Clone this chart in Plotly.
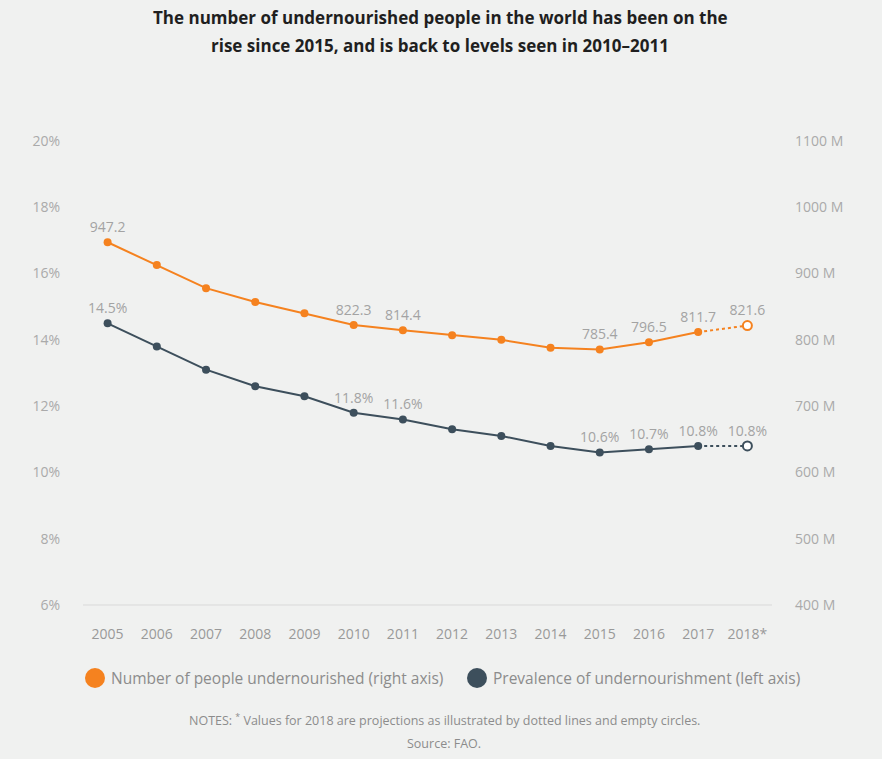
import plotly.graph_objects as go

years = ["2005", "2006", "2007", "2008", "2009", "2010", "2011", "2012", "2013",
         "2014", "2015", "2016", "2017", "2018*"]
people_m = [947.2, 913, 878, 857, 840, 822.3, 814.4, 807, 800, 788, 785.4, 796.5, 811.7, 821.6]
prevalence = [14.5, 13.8, 13.1, 12.6, 12.3, 11.8, 11.6, 11.3, 11.1, 10.8, 10.6, 10.7, 10.8, 10.8]
people_labels = ["947.2", "", "", "", "", "822.3", "814.4", "", "", "", "785.4", "796.5", "811.7", "821.6"]
prev_labels = ["14.5%", "", "", "", "", "11.8%", "11.6%", "", "", "", "10.6%", "10.7%", "10.8%", "10.8%"]
left_ticks = [6, 8, 10, 12, 14, 16, 18, 20]
left_tick_text = ["6%", "8%", "10%", "12%", "14%", "16%", "18%", "20%"]
right_ticks = [400, 500, 600, 700, 800, 900, 1000, 1100]
right_tick_text = ["400 M", "500 M", "600 M", "700 M", "800 M", "900 M", "1000 M", "1100 M"]
legend_names = ["Number of people undernourished (right axis)", "Prevalence of undernourishment (left axis)"]

ORANGE = "#f5821f"
SLATE = "#3d4f5c"
LABEL = "#a3a3a3"
BG = "#f0f1f0"
FONT = "Open Sans"

W, H = 882, 759
ML, MR, MT, MB = 83, 110, 141, 154
PW, PH = W - ML - MR, H - MT - MB


def px(xpix):
    return (xpix - ML) / PW


def py(ypix):
    return (H - MB - ypix) / PH


fig = go.Figure()
n_obs = len(years) - 1  # last is projection


def add_series(values, labels, color, axis):
    idx = [i for i in range(n_obs) if labels[i]]
    fig.add_trace(go.Scatter(
        x=years[:n_obs], y=values[:n_obs], mode="lines+markers",
        line=dict(color=color, width=2), marker=dict(color=color, size=8),
        showlegend=False, yaxis=axis))
    fig.add_trace(go.Scatter(
        x=[years[i] for i in idx], y=[values[i] for i in idx], mode="markers+text",
        text=[labels[i] for i in idx], textposition="top center",
        textfont=dict(color=LABEL, size=14, family=FONT),
        marker=dict(size=9, color="rgba(0,0,0,0)"),
        showlegend=False, cliponaxis=False, yaxis=axis))
    fig.add_trace(go.Scatter(
        x=years[n_obs - 1:], y=values[n_obs - 1:], mode="lines",
        line=dict(color=color, width=2, dash="dot"), showlegend=False, yaxis=axis))
    fig.add_trace(go.Scatter(
        x=years[n_obs:], y=values[n_obs:], mode="markers+text",
        text=labels[n_obs:], textposition="top center",
        textfont=dict(color=LABEL, size=14, family=FONT),
        marker=dict(color="white", size=9, line=dict(color=color, width=2)),
        showlegend=False, cliponaxis=False, yaxis=axis))


add_series(prevalence, prev_labels, SLATE, "y")
add_series(people_m, people_labels, ORANGE, "y2")

shapes = [dict(type="line", xref="paper", yref="paper", x0=0, x1=1, y0=0, y1=0,
               line=dict(color="#d9d9d9", width=1))]
annotations = []

# Manual legend
legend_items = [(95, ORANGE, legend_names[0]), (477, SLATE, legend_names[1])]
for cx, col, name in legend_items:
    shapes.append(dict(type="circle", xref="paper", yref="paper",
                       xsizemode="pixel", ysizemode="pixel",
                       xanchor=px(cx), yanchor=py(678),
                       x0=-10, x1=10, y0=-10, y1=10,
                       fillcolor=col, line=dict(width=0)))
    annotations.append(dict(text=name, xref="paper", yref="paper",
                            x=px(cx + 14), xanchor="left", y=py(678), yanchor="middle",
                            showarrow=False, font=dict(size=15.5, color="#8c8c8c", family=FONT)))

title_font = dict(size=17, color="#1f1f1f", family=FONT)
annotations += [
    dict(text="<b>The number of undernourished people in the world has been on the</b>",
         xref="paper", yref="paper", x=px(440), y=py(18), yanchor="middle",
         showarrow=False, font=title_font),
    dict(text="<b>rise since 2015, and is back to levels seen in 2010–2011</b>",
         xref="paper", yref="paper", x=px(440), y=py(45), yanchor="middle",
         showarrow=False, font=title_font),
    dict(text="NOTES: <sup>*</sup> Values for 2018 are projections as illustrated by dotted lines and empty circles.",
         xref="paper", yref="paper", x=px(444), y=py(720), yanchor="middle", showarrow=False,
         font=dict(size=12.5, color="#8c8c8c", family=FONT)),
    dict(text="Source: FAO.", xref="paper", yref="paper", x=px(444), y=py(743),
         yanchor="middle", showarrow=False,
         font=dict(size=12.5, color="#8c8c8c", family=FONT)),
]

fig.update_layout(
    width=W, height=H,
    margin=dict(l=ML, r=MR, t=MT, b=MB),
    paper_bgcolor=BG, plot_bgcolor=BG,
    font=dict(family=FONT, color=LABEL, size=14),
    showlegend=False,
    xaxis=dict(type="category", range=[-0.5, 13.5], showgrid=False, zeroline=False,
               showline=False, ticks="", tickfont=dict(size=14, color="#999999"),
               ticklabelstandoff=19),
    yaxis=dict(range=[6, 20], tickvals=left_ticks, ticktext=left_tick_text,
               showgrid=False, zeroline=False, showline=False, ticks="",
               tickfont=dict(size=14, color="#aaaaaa"), ticklabelstandoff=22),
    yaxis2=dict(range=[400, 1100], tickvals=right_ticks, ticktext=right_tick_text,
                overlaying="y", side="right", showgrid=False, zeroline=False,
                showline=False, ticks="", tickfont=dict(size=14, color="#aaaaaa"),
                ticklabelstandoff=22),
    shapes=shapes,
    annotations=annotations,
)

fig.write_html("out.html")
